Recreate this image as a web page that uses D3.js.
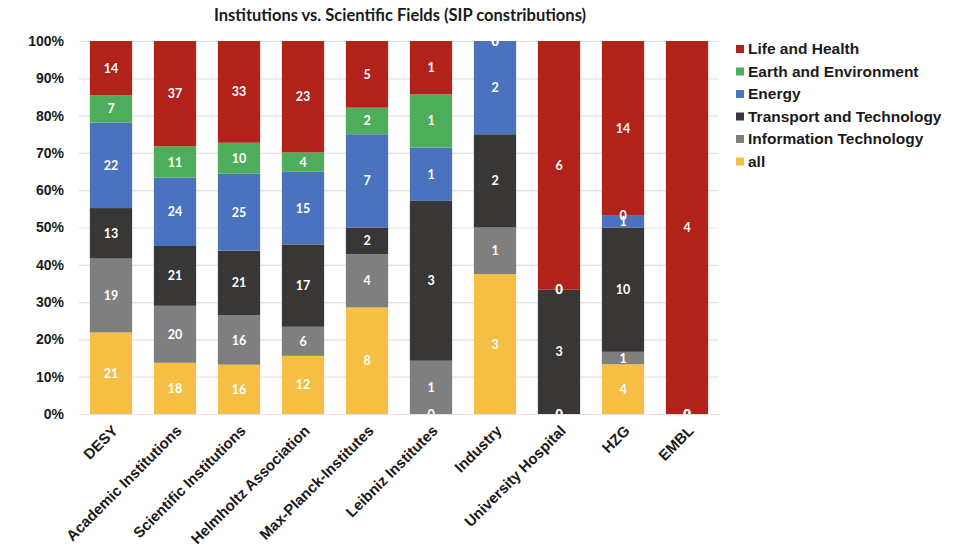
<!DOCTYPE html>
<html>
<head>
<meta charset="utf-8">
<script src="https://cdn.jsdelivr.net/npm/d3@7"></script>
<style>
  html, body { margin: 0; padding: 0; background: #fff; }
  svg { display: block; }
</style>
</head>
<body>
<svg id="chart" width="971" height="551"></svg>
<script>
// Institutions and the number of SIP contributions per scientific field
const categories = ["DESY", "Academic Institutions", "Scientific Institutions", "Helmholtz Association",
  "Max-Planck-Institutes", "Leibniz Institutes", "Industry", "University Hospital", "HZG", "EMBL"];

const allFields   = [21, 18, 16, 12, 8, 0, 3, 0, 4, 0];
const infoTech    = [19, 20, 16, 6, 4, 1, 1, 0, 1, 0];
const transport   = [13, 21, 21, 17, 2, 3, 2, 3, 10, 0];
const energy      = [22, 24, 25, 15, 7, 1, 2, 0, 1, 0];
const earthEnv    = [7, 11, 10, 4, 2, 1, 0, 0, 0, 0];
const lifeHealth  = [14, 37, 33, 23, 5, 1, 0, 6, 14, 4];

// Stack order, bottom to top
const seriesNames = ["all", "Information Technology", "Transport and Technology", "Energy",
  "Earth and Environment", "Life and Health"];
const seriesValues = [allFields, infoTech, transport, energy, earthEnv, lifeHealth];
const seriesColors = ["#F4BF42", "#7F7F7F", "#393636", "#4A72BF", "#4EAD5B", "#B0221A"];

const yTicks = [0, 0.1, 0.2, 0.3, 0.4, 0.5, 0.6, 0.7, 0.8, 0.9, 1.0];

const svg = d3.select("#chart");
const plot = { left: 79, right: 719, top: 41, bottom: 414 };

const x = d3.scaleBand().domain(categories).range([plot.left, plot.right])
  .paddingInner(0.34).paddingOuter(0.17);
const y = d3.scaleLinear().domain([0, 1]).range([plot.bottom, plot.top]);
const color = d3.scaleOrdinal().domain(seriesNames).range(seriesColors);

// Rows of counts per category, normalised within the stack
const rows = categories.map((c, i) => {
  const r = { category: c };
  seriesNames.forEach((s, k) => r[s] = seriesValues[k][i]);
  return r;
});
const stacked = d3.stack().keys(seriesNames).offset(d3.stackOffsetExpand)(rows);

// Title
svg.append("text")
  .attr("x", (plot.left + plot.right) / 2 + 1).attr("y", 21)
  .attr("text-anchor", "middle")
  .style("font-family", "Lato, 'Open Sans', sans-serif")
  .style("font-weight", "bold").style("font-size", "16.5px").style("fill", "#1a1a1a")
  .text("Institutions vs. Scientific Fields (SIP constributions)");

// Gridlines and percent axis
const yAxis = d3.axisLeft(y).tickValues(yTicks).tickFormat(d3.format(".0%"))
  .tickSize(-(plot.right - plot.left)).tickPadding(15);
const gy = svg.append("g").attr("transform", `translate(${plot.left},0)`).call(yAxis);
gy.select(".domain").remove();
gy.selectAll(".tick line").attr("stroke", "#e3e3e3").attr("stroke-width", 1.2);
gy.selectAll(".tick text")
  .style("font-family", "'Liberation Sans', Arial, sans-serif")
  .style("font-weight", "bold").style("font-size", "14px").style("fill", "#1a1a1a");

// Bars
const layers = svg.append("g").selectAll("g").data(stacked).join("g")
  .attr("fill", d => color(d.key));
layers.selectAll("rect").data(d => d).join("rect")
  .attr("x", d => x(d.data.category))
  .attr("width", x.bandwidth())
  .attr("y", d => y(d[1]))
  .attr("height", d => y(d[0]) - y(d[1]));

// Value labels, clipped to the plot area
svg.append("clipPath").attr("id", "plot-clip").append("rect")
  .attr("x", plot.left).attr("y", plot.top)
  .attr("width", plot.right - plot.left).attr("height", plot.bottom - plot.top);
const labels = svg.append("g").attr("clip-path", "url(#plot-clip)");
stacked.forEach(layer => {
  labels.append("g").selectAll("text").data(layer).join("text")
    .attr("x", d => x(d.data.category) + x.bandwidth() / 2)
    .attr("y", d => y((d[0] + d[1]) / 2))
    .attr("dy", "0.36em")
    .attr("text-anchor", "middle")
    .style("font-family", "Lato, 'Open Sans', sans-serif")
    .style("font-weight", "bold").style("font-size", "12.5px").style("fill", "#ffffff")
    .text(d => d.data[layer.key]);
});

// Category axis with slanted labels
const xAxis = d3.axisBottom(x).tickSize(0).tickPadding(0);
const gx = svg.append("g").attr("transform", `translate(0,${plot.bottom})`).call(xAxis);
gx.select(".domain").attr("stroke", "#e3e3e3").attr("stroke-width", 1.2);
gx.selectAll(".tick text")
  .attr("text-anchor", "end")
  .attr("transform", "translate(4,14) rotate(-45)")
  .attr("dy", "0.35em")
  .style("font-family", "'Liberation Sans', Arial, sans-serif")
  .style("font-weight", "bold").style("font-size", "15px").style("fill", "#1a1a1a");

// Legend, top entry first
const legendOrder = seriesNames.slice().reverse();
const legend = svg.append("g").attr("transform", "translate(736,49)");
const items = legend.selectAll("g").data(legendOrder).join("g")
  .attr("transform", (d, i) => `translate(0,${i * 22.5})`);
items.append("rect").attr("x", 0).attr("y", -4).attr("width", 8).attr("height", 8)
  .attr("fill", d => color(d));
items.append("text").attr("x", 12).attr("y", 0).attr("dy", "0.35em")
  .style("font-family", "'Liberation Sans', Arial, sans-serif")
  .style("font-weight", "bold").style("font-size", "15.5px").style("fill", "#1a1a1a")
  .text(d => d);
</script>
</body>
</html>
